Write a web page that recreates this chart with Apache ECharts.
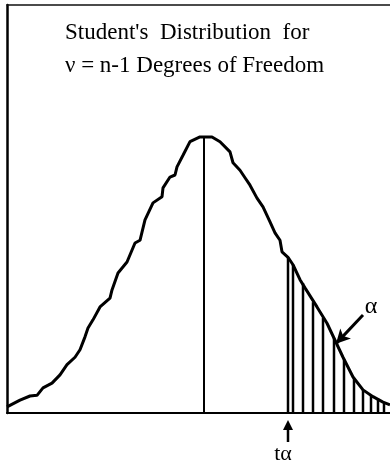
<!DOCTYPE html>
<html>
<head>
<meta charset="utf-8">
<script src="https://cdn.jsdelivr.net/npm/echarts@6/dist/echarts.min.js"></script>
<style>
html,body{margin:0;padding:0;background:#fff;}
#c{width:390px;height:465px;}
</style>
</head>
<body>
<div id="c"></div>
<script>
// Curve: t value and density height
var curveT = [-3.94,-3.68,-3.48,-3.34,-3.22,-3.04,-2.88,-2.74,-2.58,-2.48,-2.38,-2.32,-2.22,-2.08,-1.88,-1.84,-1.72,-1.54,-1.38,-1.28,-1.18,-1.02,-0.84,-0.82,-0.68,-0.58,-0.54,-0.42,-0.28,-0.08,-0.02,0.16,0.32,0.52,0.58,0.72,0.82,0.92,1.06,1.18,1.32,1.42,1.52,1.56,1.68,1.78,1.92,2.02,2.26,2.46,2.62,2.78,2.98,3.18,3.38,3.58,3.72];
var curveD = [0.009,0.019,0.025,0.026,0.037,0.044,0.056,0.071,0.082,0.093,0.112,0.125,0.137,0.156,0.169,0.181,0.206,0.222,0.250,0.254,0.284,0.309,0.318,0.331,0.347,0.350,0.362,0.379,0.399,0.406,0.406,0.406,0.399,0.384,0.368,0.357,0.346,0.335,0.316,0.303,0.281,0.265,0.254,0.237,0.229,0.218,0.196,0.184,0.156,0.132,0.107,0.082,0.053,0.034,0.024,0.016,0.012];
// Hatch lines in the tail (alpha region)
var hatchT = [1.68,1.78,1.98,2.18,2.38,2.60,2.80,3.00,3.18,3.34,3.48,3.60];
var hatchD = [0.229,0.218,0.191,0.163,0.140,0.110,0.079,0.051,0.034,0.025,0.021,0.016];
// Centre line (mean) and critical value
var centreT = 0;
var centreD = 0.406;
var tAlpha = 1.68;
var titleLines = ["Student's  Distribution  for", "\u03bd = n-1 Degrees of Freedom"];
var alphaLabel = "\u03b1";
var tAlphaLabel = "t\u03b1";
var alphaArrowFrom = [3.18, 0.144];
var alphaArrowTo = [2.64, 0.102];
var alphaLabelPos = [3.34, 0.157];

var chart = echarts.init(document.getElementById('c'), null, {renderer: 'canvas'});
var serif = "'Liberation Serif','DejaVu Serif',serif";

var curveData = curveT.map(function (t, i) { return [t, curveD[i]]; });
var hatchData = hatchT.map(function (t, i) { return [t, hatchD[i]]; });

chart.setOption({
  animation: false,
  backgroundColor: '#fff',
  title: {
    text: titleLines.join('\n'),
    left: 65, top: 16, padding: 0,
    textStyle: {fontFamily: serif, fontSize: 23, fontWeight: 'normal', color: '#000', lineHeight: 33}
  },
  grid: {left: 7, right: 0, top: 5, bottom: 52, containLabel: false},
  xAxis: [
    {type: 'value', min: -3.94, max: 3.72, position: 'bottom',
     axisLine: {show: true, onZero: false, lineStyle: {color: '#000', width: 2}},
     axisTick: {show: false}, axisLabel: {show: false}, splitLine: {show: false}},
    {type: 'value', min: -3.94, max: 3.72, position: 'top',
     axisLine: {show: true, onZero: false, lineStyle: {color: '#111', width: 1.5}},
     axisTick: {show: false}, axisLabel: {show: false}, splitLine: {show: false}}
  ],
  yAxis: {type: 'value', min: 0, max: 0.6,
    axisLine: {show: true, onZero: false, lineStyle: {color: '#000', width: 2.5}},
    axisTick: {show: false}, axisLabel: {show: false}, splitLine: {show: false}},
  series: [
    {type: 'line', data: curveData, symbol: 'none', smooth: false, z: 3,
     lineStyle: {color: '#000', width: 3},
     markLine: {
       silent: true, symbol: ['none', 'arrow'], symbolSize: [11, 14],
       lineStyle: {color: '#000', width: 3, type: 'solid'},
       label: {show: false},
       data: [[{coord: alphaArrowFrom}, {coord: alphaArrowTo}]]
     },
     markPoint: {
       silent: true, symbol: 'circle', symbolSize: 0,
       label: {show: true, formatter: alphaLabel, color: '#000', fontFamily: serif, fontSize: 24, position: 'inside'},
       data: [{coord: alphaLabelPos}]
     }
    },
    {type: 'line', data: [[centreT, 0], [centreT, centreD]], symbol: 'none', z: 2,
     lineStyle: {color: '#000', width: 2}},
    {type: 'custom', data: hatchData, z: 2,
     renderItem: function (params, api) {
       var p0 = api.coord([api.value(0), 0]);
       var p1 = api.coord([api.value(0), api.value(1)]);
       return {type: 'line', shape: {x1: p0[0], y1: p0[1], x2: p1[0], y2: p1[1]},
               style: {stroke: '#000', lineWidth: 2.5}};
     }}
  ]
});

var base = chart.convertToPixel({gridIndex: 0}, [tAlpha, 0]);
var ax = Math.round(base[0]);
chart.setOption({
  graphic: [
    {type: 'line', shape: {x1: ax, y1: base[1] + 14, x2: ax, y2: base[1] + 29},
     style: {stroke: '#000', lineWidth: 2.5}},
    {type: 'polygon', shape: {points: [[ax, base[1] + 7], [ax - 5, base[1] + 17], [ax + 5, base[1] + 17]]},
     style: {fill: '#000'}},
    {type: 'text', x: ax - 5, y: base[1] + 41,
     style: {text: tAlphaLabel, fontFamily: serif, fontSize: 22, fill: '#000', align: 'center', verticalAlign: 'middle'}}
  ]
});
</script>
</body>
</html>
